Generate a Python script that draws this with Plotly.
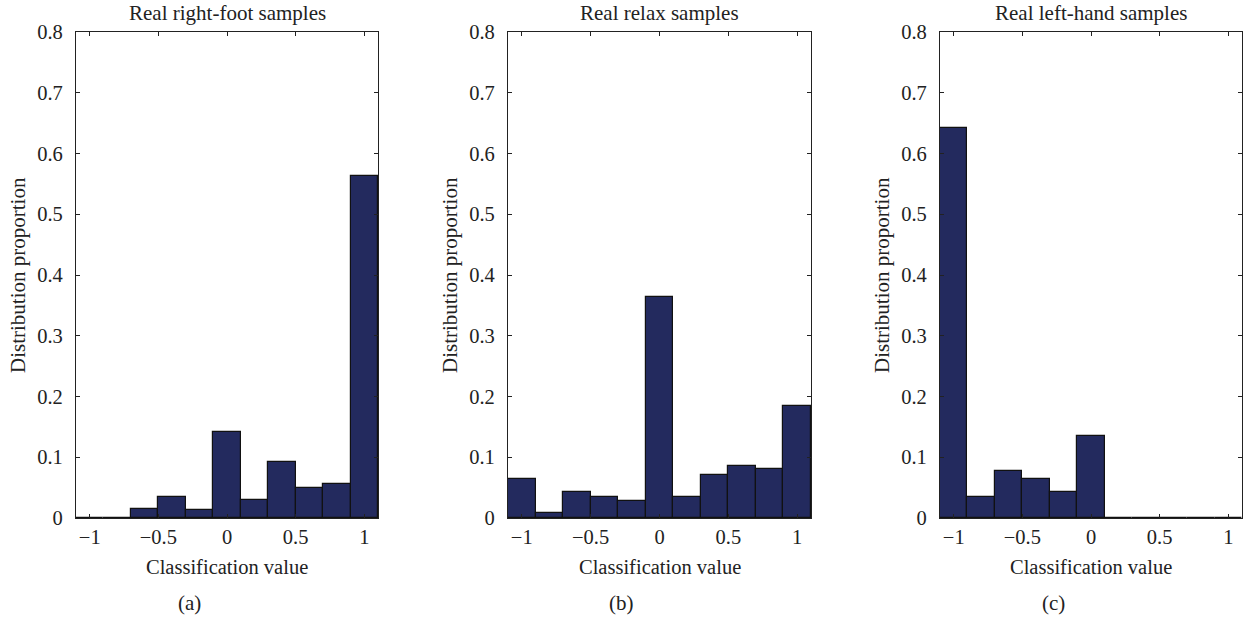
import plotly.graph_objects as go

bin_centers = [-1.0, -0.8, -0.6, -0.4, -0.2, 0.0, 0.2, 0.4, 0.6, 0.8, 1.0]
right_foot = [0.0, 0.0, 0.015, 0.035, 0.014, 0.142, 0.029, 0.092, 0.049, 0.056, 0.563]
relax = [0.065, 0.008, 0.043, 0.035, 0.028, 0.364, 0.035, 0.071, 0.085, 0.080, 0.184]
left_hand = [0.642, 0.034, 0.078, 0.064, 0.042, 0.135, 0.0, 0.0, 0.0, 0.0, 0.0]

titles = ["Real right-foot samples", "Real relax samples", "Real left-hand samples"]
sublabels = ["(a)", "(b)", "(c)"]
x_ticks = [-1, -0.5, 0, 0.5, 1]
x_ticktext = ["\u22121", "\u22120.5", "0", "0.5", "1"]
y_ticks = [0, 0.1, 0.2, 0.3, 0.4, 0.5, 0.6, 0.7, 0.8]
y_ticktext = ["0", "0.1", "0.2", "0.3", "0.4", "0.5", "0.6", "0.7", "0.8"]

W, H = 1248, 621
FONT = "Liberation Serif, Times New Roman, serif"
TXT = "#222222"
BAR = "#232a5e"

# pixel extents of each axes box
x_px = [(76, 378), (508, 811), (940, 1242)]
y_top, y_bot = 32, 518

fig = go.Figure()
layout = dict(
    width=W, height=H, margin=dict(l=0, r=0, t=0, b=0, pad=0, autoexpand=False),
    paper_bgcolor="white", plot_bgcolor="white",
    showlegend=False, font=dict(family=FONT, size=20, color=TXT),
    bargap=0,
)
annotations = []
series = [right_foot, relax, left_hand]
for i, vals in enumerate(series):
    xa = "x" if i == 0 else f"x{i+1}"
    ya = "y" if i == 0 else f"y{i+1}"
    fig.add_trace(go.Bar(
        x=bin_centers, y=vals, width=0.2, xaxis=xa, yaxis=ya,
        marker=dict(color=BAR, line=dict(color="#111111", width=1.2)),
    ))
    l, r = x_px[i]
    dom_x = [l / W, r / W]
    dom_y = [1 - y_bot / H, 1 - y_top / H]
    axcommon = dict(
        showline=True, linecolor="#222222", linewidth=1.2, mirror="ticks",
        ticks="inside", ticklen=4, tickcolor="#222222", tickwidth=1,
        showgrid=False, zeroline=False, automargin=False,
        tickfont=dict(family=FONT, size=20.5, color=TXT),
    )
    xkey = "xaxis" if i == 0 else f"xaxis{i+1}"
    ykey = "yaxis" if i == 0 else f"yaxis{i+1}"
    layout[xkey] = dict(
        axcommon, domain=dom_x, range=[-1.1, 1.1], anchor=ya,
        tickvals=x_ticks, ticktext=x_ticktext, ticklabelstandoff=0,
    )
    layout[ykey] = dict(
        axcommon, domain=dom_y, range=[0, 0.8], anchor=xa,
        tickvals=y_ticks, ticktext=y_ticktext, ticklabelstandoff=8,
    )
    cx = (l + r) / 2 / W
    annotations.append(dict(text=titles[i], x=cx, y=1 - 13 / H, xref="paper", yref="paper",
                            showarrow=False, xanchor="center", yanchor="middle",
                            font=dict(family=FONT, size=21, color=TXT)))
    annotations.append(dict(text="Classification value", x=cx, y=1 - 567 / H, xref="paper", yref="paper",
                            showarrow=False, xanchor="center", yanchor="middle",
                            font=dict(family=FONT, size=20.5, color=TXT)))
    annotations.append(dict(text=sublabels[i], x=cx - 38 / W, y=1 - 603 / H, xref="paper", yref="paper",
                            showarrow=False, xanchor="center", yanchor="middle",
                            font=dict(family=FONT, size=21, color=TXT)))
    annotations.append(dict(text="Distribution proportion", x=(l - 58) / W, y=1 - 275 / H,
                            xref="paper", yref="paper", textangle=-90,
                            showarrow=False, xanchor="center", yanchor="middle",
                            font=dict(family=FONT, size=21, color=TXT)))

layout["annotations"] = annotations
fig.update_layout(**layout)
fig.write_html("out.html")
